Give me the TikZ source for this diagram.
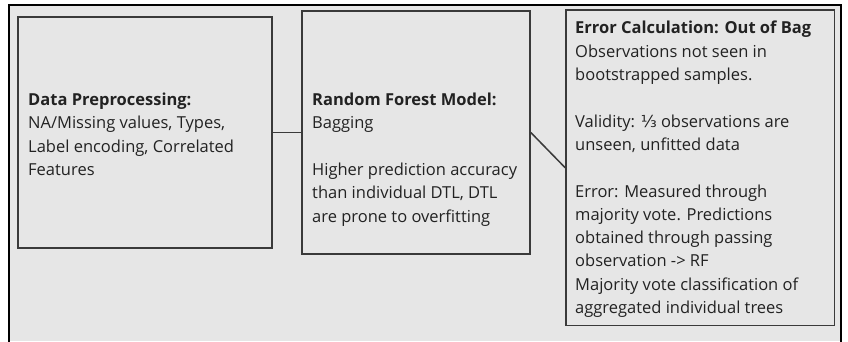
\documentclass[tikz,border=0pt]{standalone}
\usepackage{fontspec}
\setmainfont{Open Sans}
\newfontfamily\fracfont{DejaVu Sans}
\definecolor{panel}{HTML}{E6E6E6}
\definecolor{edge}{HTML}{3A3A3A}
\definecolor{ink}{HTML}{222222}

\begin{document}
\begin{tikzpicture}[x=1pt,y=-1pt,
  stage/.style={draw=edge, line width=1.6pt, fill=panel, rectangle, inner sep=0pt},
  copy/.style={anchor=base west, align=left, inner sep=0pt, text=ink,
    font=\fontsize{16.5}{23.3}\selectfont},
  link/.style={draw=edge, line width=1.5pt}]
\useasboundingbox (0,0) rectangle (848,341);
\fill[white] (0,0) rectangle (848,341);
% frame of the whole panel (open at the bottom)
\fill[panel] (9,4.5) rectangle (840.5,341);
\draw[line width=2pt, black] (9,345) -- (9,4.5) -- (840.5,4.5) -- (840.5,345);

% three stages
\node[stage, minimum width=254pt, minimum height=231pt] (prep) at (145,132.5) {};
\node[stage, minimum width=228pt, minimum height=243pt] (forest) at (416,132.5) {};
\node[stage, minimum width=268.5pt, minimum height=315.5pt] (oob) at (700.25,167.75) {};

% connectors
\draw[link] (prep.east) -- (forest.west);
\draw[link] (forest.east) -- (oob.west);

% texts (placed by the baseline of their last line)
\node[copy] (preptext) at (28,175.5) {\textbf{Data Preprocessing:}\\
  NA/Missing values, Types,\\
  Label encoding, Correlated\\
  Features};
\node[copy] (foresttext) at (312,222) {\textbf{Random Forest Model:}\\
  Bagging\\[23.3pt]
  Higher prediction accuracy\\
  than individual DTL, DTL\\
  are prone to overfitting};
\node[copy] (oobtext) at (575,313.5) {\textbf{Error Calculation: Out of Bag}\\
  Observations not seen in\\
  bootstrapped samples.\\[23.3pt]
  Validity: {\fracfont ⅓} observations are\\
  unseen, unfitted data\\[23.3pt]
  Error: Measured through\\
  majority vote. Predictions\\
  obtained through passing\\
  observation -> RF\\
  Majority vote classification of\\
  aggregated individual trees};
\end{tikzpicture}
\end{document}
